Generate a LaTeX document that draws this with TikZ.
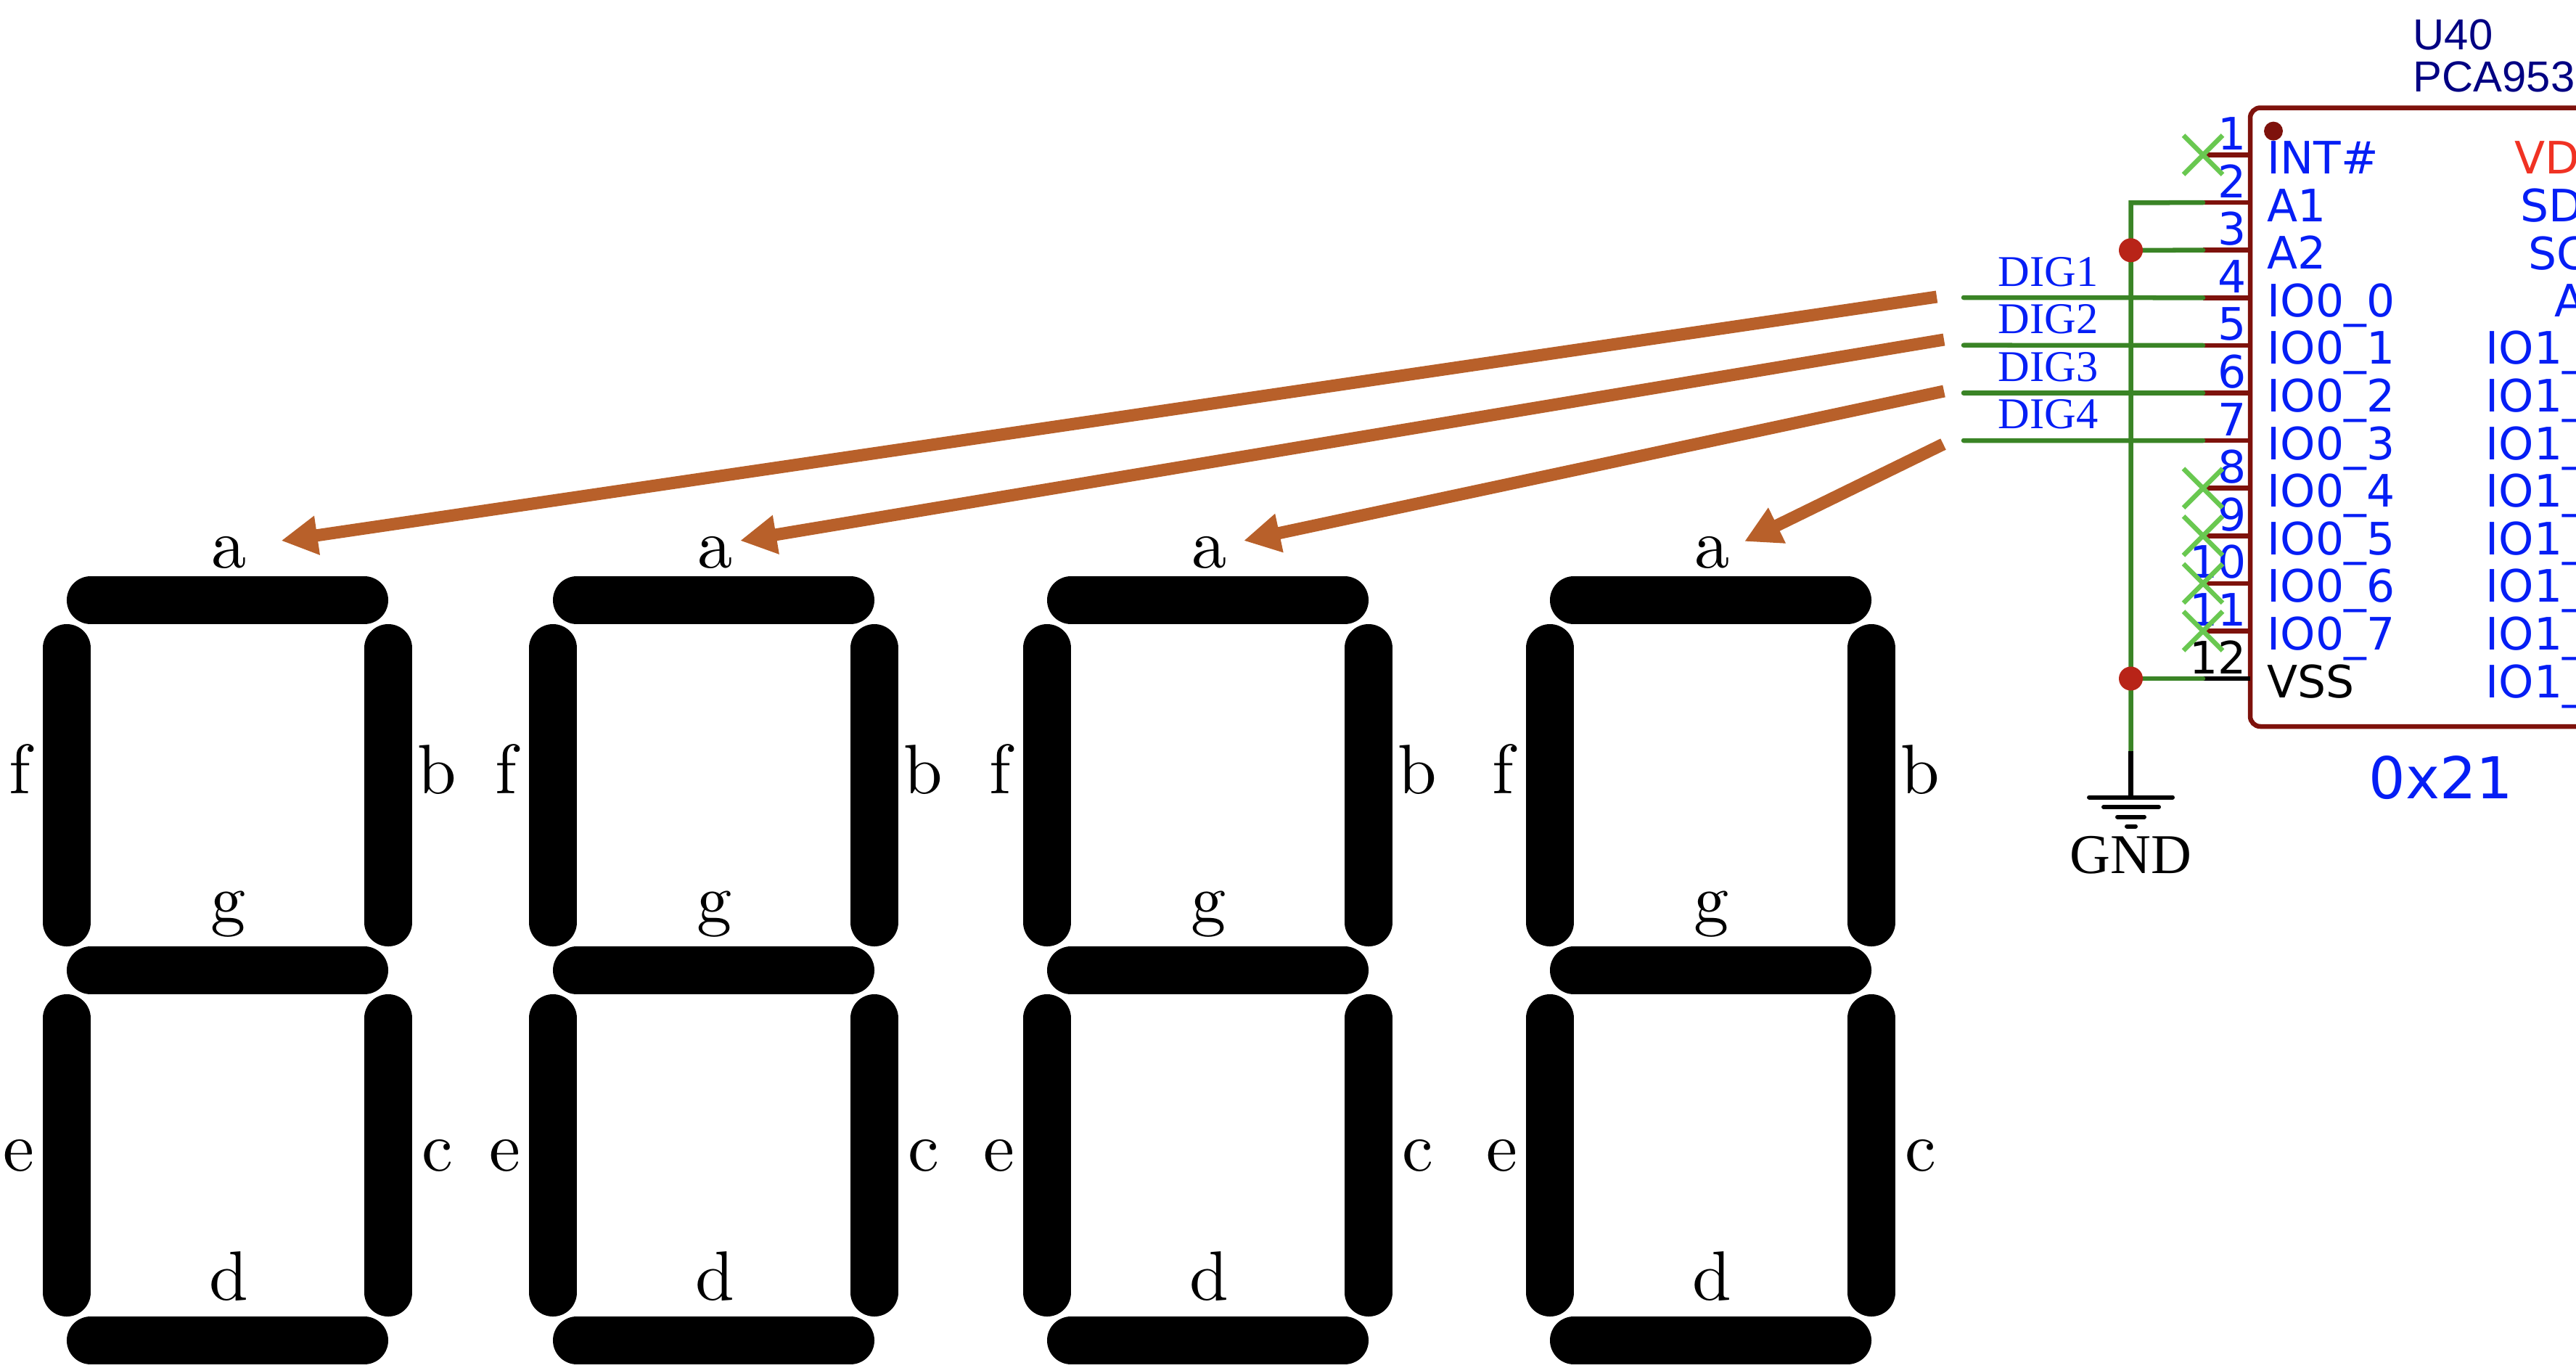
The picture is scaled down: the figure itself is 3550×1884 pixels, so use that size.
\documentclass[tikz,border=0pt]{standalone}
\usepackage{graphicx}
\usepackage{fontspec}
\usepackage{xcolor}
\usetikzlibrary{arrows.meta,positioning,calc}
\newfontfamily\pinfont{DejaVu Sans}
\newfontfamily\netfont{Liberation Serif}
\newfontfamily\reffont{Liberation Sans}
\definecolor{wirered}{RGB}{126,18,12}
\definecolor{wiregreen}{RGB}{58,132,38}
\definecolor{ncgreen}{RGB}{105,200,80}
\definecolor{pinblue}{RGB}{5,30,245}
\definecolor{refnavy}{RGB}{0,0,130}
\definecolor{pwrred}{RGB}{240,50,35}
\definecolor{junctionred}{RGB}{184,36,24}
\definecolor{arrowbrown}{RGB}{184,96,42}
\tikzset{
  segline/.style={line width=0.66cm, line cap=round},
  seglabel/.style={anchor=base, inner sep=0pt},
  pinnum/.style={anchor=base east, inner sep=0pt, text=pinblue, font=\pinfont\fontsize{17.5}{20}\selectfont},
  pinname/.style={anchor=base west, inner sep=0pt, text=pinblue, font=\pinfont\fontsize{17.5}{20}\selectfont},
  netlabel/.style={anchor=base west, inner sep=0pt, text=pinblue, font=\netfont\fontsize{17.2}{20}\selectfont},
  wire/.style={wiregreen, line width=0.065cm, line cap=round},
  pinline/.style={wirered, line width=0.065cm},
  nocon/.style={ncgreen, line width=0.065cm},
  gndbar/.style={black, line width=0.06cm, line cap=round},
  probe/.style={-{Triangle[length=0.5cm,width=0.51cm]}, arrowbrown, line width=0.17cm},
}
\newcommand{\seglet}[1]{\scalebox{2.74}{#1}}
% one seven-segment digit: #1 is the x of the left edge, #2 the name
\newcommand{\sevenseg}[2]{
  \draw[segline] (#1+125,827) -- (#1+502,827);
  \draw[segline] (#1+125,1337) -- (#1+502,1337);
  \draw[segline] (#1+125,1847) -- (#1+502,1847);
  \draw[segline] (#1+92,893) -- (#1+92,1271);
  \draw[segline] (#1+535,893) -- (#1+535,1271);
  \draw[segline] (#1+92,1403) -- (#1+92,1781);
  \draw[segline] (#1+535,1403) -- (#1+535,1781);
  \node[seglabel] (#2a) at (#1+316,782) {\seglet{a}};
  \node[seglabel] (#2f) at (#1+27,1093) {\seglet{f}};
  \node[seglabel] (#2b) at (#1+602,1093) {\seglet{b}};
  \node[seglabel] (#2g) at (#1+315,1271) {\seglet{g}};
  \node[seglabel] (#2e) at (#1+26,1613) {\seglet{e}};
  \node[seglabel] (#2c) at (#1+603,1613) {\seglet{c}};
  \node[seglabel] (#2d) at (#1+315,1791) {\seglet{d}};
}
\begin{document}
\begin{tikzpicture}[x=0.01cm,y=-0.01cm]
  \useasboundingbox (0,0) rectangle (3550,1884);

  %--- Seven-segment digits ---
  \sevenseg{0}{one}
  \sevenseg{670}{two}
  \sevenseg{1351}{three}
  \sevenseg{2044}{four}

  %--- Chip body ---
  \draw[wirered, line width=0.065cm, rounded corners=0.14cm] (3600,148.5) -- (3101,148.5) -- (3101,1001) -- (3600,1001);
  \fill[wirered] (3133,180.6) circle [radius=13];
  \node[anchor=base west, inner sep=0pt, text=refnavy, font=\reffont\fontsize{17}{20}\selectfont] (refdes) at (3325,68) {U40};
  \node[anchor=base west, inner sep=0pt, text=refnavy, font=\reffont\fontsize{17}{20}\selectfont] (partname) at (3325,126) {PCA953};
  \node[anchor=base west, inner sep=0pt, text=pinblue, font=\pinfont\fontsize{22.6}{26}\selectfont] (addr) at (3264,1100) {0x21};

  %--- Pin stubs, numbers and names ---
  \foreach \i/\lab in {1/INT\#,2/A1,3/A2,4/IO0\_0,5/IO0\_1,6/IO0\_2,7/IO0\_3,8/IO0\_4,9/IO0\_5,10/IO0\_6,11/IO0\_7}{
    \pgfmathsetmacro{\py}{213.5+65.6*(\i-1)}
    \coordinate (pin\i) at (3036,\py);
    \coordinate (stub\i) at (3101,\py);
    \draw[pinline] (pin\i) -- (stub\i);
    \node[pinnum] (num\i) at (3096,\py-7) {\i};
    \node[pinname] (name\i) at (3124,\py+26) {\lab};
  }
  \coordinate (pin12) at (3036,935);
  \coordinate (stub12) at (3101,935);
  \draw[black, line width=0.065cm] (pin12) -- (stub12);
  \node[pinnum, text=black] (num12) at (3096,928) {12};
  \node[pinname, text=black] (name12) at (3124,961) {VSS};

  %--- Right side names ---
  \node[pinname, text=pwrred] (vdd) at (3465,239.5) {VD};
  \node[pinname] (sda) at (3473,305) {SD};
  \node[pinname] (scl) at (3484,371) {SC};
  \node[pinname] (azero) at (3520,436) {A};
  \foreach \i in {5,...,12}{
    \pgfmathsetmacro{\py}{213.5+65.6*(\i-1)+26}
    \node[pinname] (ioone\i) at (3425,\py) {IO1\_};
  }

  %--- Wiring ---
  \coordinate (railtop) at (2936.5,279.4);
  \coordinate (railbot) at (2936.5,1034.5);
  \coordinate (gndtop) at (2936.5,1098.5);
  \coordinate (joinA) at (2936.5,344.8);
  \coordinate (joinB) at (2936.5,935);
  \coordinate (dig1) at (2706,410);
  \coordinate (dig2) at (2706,475.7);
  \coordinate (dig3) at (2706,541.5);
  \coordinate (dig4) at (2706,607);

  \draw[wire] (pin2) -- (railtop) -- (railbot);
  \draw[wire] (joinA) -- (pin3);
  \draw[wire] (joinB) -- (pin12);
  \draw[wire] (dig1) -- (pin4);
  \draw[wire] (dig2) -- (pin5);
  \draw[wire] (dig3) -- (pin6);
  \draw[wire] (dig4) -- (pin7);
  \fill[junctionred] (joinA) circle [radius=16.5];
  \fill[junctionred] (joinB) circle [radius=16.5];

  \node[netlabel] (netone) at (2753,394) {DIG1};
  \node[netlabel] (nettwo) at (2753,459) {DIG2};
  \node[netlabel] (netthree) at (2753,525) {DIG3};
  \node[netlabel] (netfour) at (2753,590.5) {DIG4};

  %--- Not connected marks ---
  \foreach \i in {1,8,9,10,11}{
    \draw[nocon] ($(pin\i)+(-27,-27)$) -- ($(pin\i)+(27,27)$);
    \draw[nocon] ($(pin\i)+(-27,27)$) -- ($(pin\i)+(27,-27)$);
  }

  %--- Ground ---
  \draw[black, line width=0.065cm] (railbot) -- (gndtop);
  \draw[gndbar] (2879,1098.5) -- (2994,1098.5);
  \draw[gndbar] (2899,1112) -- (2975,1112);
  \draw[gndbar] (2918,1125.5) -- (2955,1125.5);
  \draw[gndbar] (2931,1138.5) -- (2943,1138.5);
  \node[anchor=base, inner sep=0pt, font=\netfont\fontsize{22}{24}\selectfont] (gnd) at (2936.5,1203) {GND};

  %--- Probe arrows ---
  \coordinate (tailone) at (2669,409);
  \coordinate (tipone) at (387.5,745);
  \coordinate (tailtwo) at (2679,468);
  \coordinate (tiptwo) at (1020,745);
  \coordinate (tailthree) at (2679,539);
  \coordinate (tipthree) at (1714,745);
  \coordinate (tailfour) at (2678,612);
  \coordinate (tipfour) at (2404,746);
  \draw[probe] (tailone) -- (tipone);
  \draw[probe] (tailtwo) -- (tiptwo);
  \draw[probe] (tailthree) -- (tipthree);
  \draw[probe] (tailfour) -- (tipfour);
\end{tikzpicture}
\end{document}
